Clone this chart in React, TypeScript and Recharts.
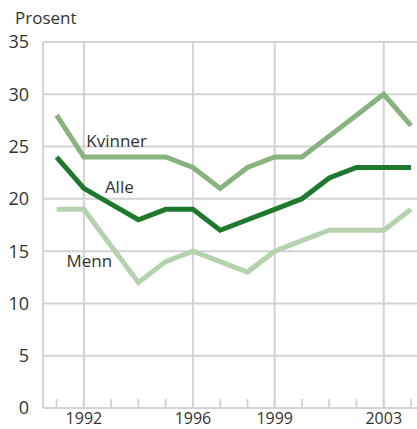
import React from 'react';
import { LineChart, Line, XAxis, YAxis, CartesianGrid, ReferenceLine, ReferenceDot } from 'recharts';

const years = [1991, 1992, 1993, 1994, 1995, 1996, 1997, 1998, 1999, 2000, 2001, 2002, 2003, 2004];
const kvinner = [28, 24, 24, 24, 24, 23, 21, 23, 24, 24, 26, 28, 30, 27];
const alle = [24, 21, 19.5, 18, 19, 19, 17, 18, 19, 20, 22, 23, 23, 23];
const menn = [19, 19, 15.5, 12, 14, 15, 14, 13, 15, 16, 17, 17, 17, 19];
const labelledYears = [1992, 1996, 1999, 2003];
const yTicks = [0, 5, 10, 15, 20, 25, 30, 35];

const data = years.map((year, i) => ({ year, kvinner: kvinner[i], alle: alle[i], menn: menn[i] }));

const GRID = '#d3d3d5';
const TEXT = '#333333';
const FONT = '"Open Sans", sans-serif';

// tick marks point up into the plot, labels only on some years
const YearTick = (props: any) => {
  const { x, y, payload } = props;
  const show = labelledYears.includes(payload.value);
  return (
    <g>
      <line x1={x} y1={y - 1} x2={x} y2={y - 9} stroke={GRID} strokeWidth={2} />
      {show && (
        <text x={x} y={y + 16} textAnchor="middle" fill={TEXT} fontSize={16} fontFamily={FONT}>
          {payload.value}
        </text>
      )}
    </g>
  );
};

const seriesLabel = (value: string) => ({
  value,
  position: 'center' as const,
  fill: TEXT,
  fontSize: 17,
  fontFamily: FONT,
});

export default function App() {
  return (
    <div style={{ position: 'absolute', left: 0, top: 0, width: 417, height: 429, background: '#fff' }}>
      <div style={{ position: 'absolute', left: 15, top: 6, fontSize: 17, fontFamily: FONT, color: TEXT }}>
        Prosent
      </div>
      <LineChart width={417} height={429} data={data} margin={{ top: 42, right: 0, bottom: 0, left: 0 }}>
        <CartesianGrid horizontal vertical={false} stroke={GRID} strokeWidth={2} />
        {labelledYears.map((y) => (
          <ReferenceLine key={y} x={y} stroke={GRID} strokeWidth={2} />
        ))}
        <XAxis
          dataKey="year"
          type="number"
          domain={[1990.5, 2004.22]}
          ticks={years}
          tick={<YearTick />}
          tickLine={false}
          tickSize={0}
          tickMargin={0}
          axisLine={{ stroke: GRID, strokeWidth: 2 }}
          height={21}
          interval={0}
          allowDataOverflow
        />
        <YAxis
          domain={[0, 35]}
          ticks={yTicks}
          width={43}
          tickLine={false}
          tickMargin={8}
          axisLine={{ stroke: GRID, strokeWidth: 2 }}
          tick={{ fill: TEXT, fontSize: 18, fontFamily: FONT }}
          interval={0}
        />
        <Line dataKey="menn" stroke="#b3d2ad" strokeWidth={5} dot={false} isAnimationActive={false} />
        <Line dataKey="kvinner" stroke="#88b37f" strokeWidth={5} dot={false} isAnimationActive={false} />
        <Line dataKey="alle" stroke="#1d7a2c" strokeWidth={5} dot={false} isAnimationActive={false} />
        <ReferenceDot x={1993.2} y={25.5} r={0} fill="none" stroke="none" label={seriesLabel('Kvinner')} />
        <ReferenceDot x={1993.3} y={21.1} r={0} fill="none" stroke="none" label={seriesLabel('Alle')} />
        <ReferenceDot x={1992.2} y={14.1} r={0} fill="none" stroke="none" label={seriesLabel('Menn')} />
      </LineChart>
    </div>
  );
}
